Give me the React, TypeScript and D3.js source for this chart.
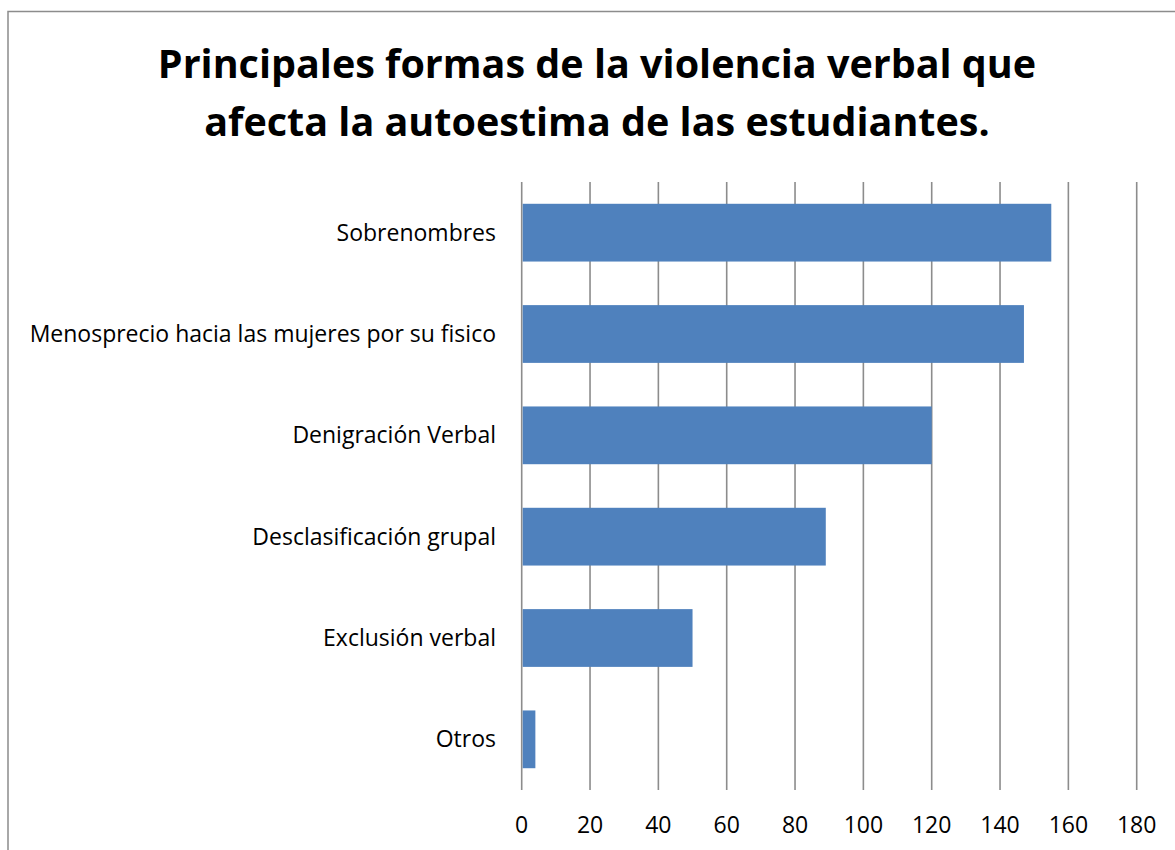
import React from "react";
import * as d3 from "d3";

const categories = [
  "Sobrenombres",
  "Menosprecio hacia las mujeres por su fisico",
  "Denigración Verbal",
  "Desclasificación grupal",
  "Exclusión verbal",
  "Otros",
];
const values = [155, 147, 120, 89, 50, 4];
const xTicks = [0, 20, 40, 60, 80, 100, 120, 140, 160, 180];
const titleLines = [
  "Principales formas de la violencia verbal que",
  "afecta la autoestima de las estudiantes.",
];

const W = 1175;
const H = 850;
const FONT = "'Open Sans', Lato, 'Liberation Sans', sans-serif";

export default function App() {
  const x = d3.scaleLinear().domain([0, 180]).range([521.7, 1136.7]);
  const y = d3.scaleBand<string>().domain(categories).range([182, 790]).paddingInner(0.43).paddingOuter(0.215);

  return (
    <svg width={W} height={H} style={{ position: "absolute", left: 0, top: 0, background: "#fff" }}>
      <rect x={8} y={11.5} width={1200} height={900} fill="#fff" stroke="#8c8c8c" strokeWidth={1.5} />
      {titleLines.map((t, i) => (
        <text key={i} x={597} y={78 + i * 58} textAnchor="middle" fontFamily={FONT} fontWeight={700} fontSize={39.5} fill="#000">
          {t}
        </text>
      ))}
      {xTicks.map((t) => (
        <g key={t}>
          <line x1={x(t)} x2={x(t)} y1={182} y2={790} stroke="#8c8c8c" strokeWidth={1.6} />
          <text x={x(t)} y={833} textAnchor="middle" fontFamily={FONT} fontSize={23} fill="#000">
            {t}
          </text>
        </g>
      ))}
      {categories.map((c, i) => (
        <g key={c}>
          <rect x={x(0) + 1} y={y(c)!} width={x(values[i]) - x(0) - 1} height={y.bandwidth()} fill="#4F81BD" />
          <text x={496} y={y(c)! + y.bandwidth() / 2} dy="0.35em" textAnchor="end" fontFamily={FONT} fontSize={23} fill="#000">
            {c}
          </text>
        </g>
      ))}
    </svg>
  );
}
